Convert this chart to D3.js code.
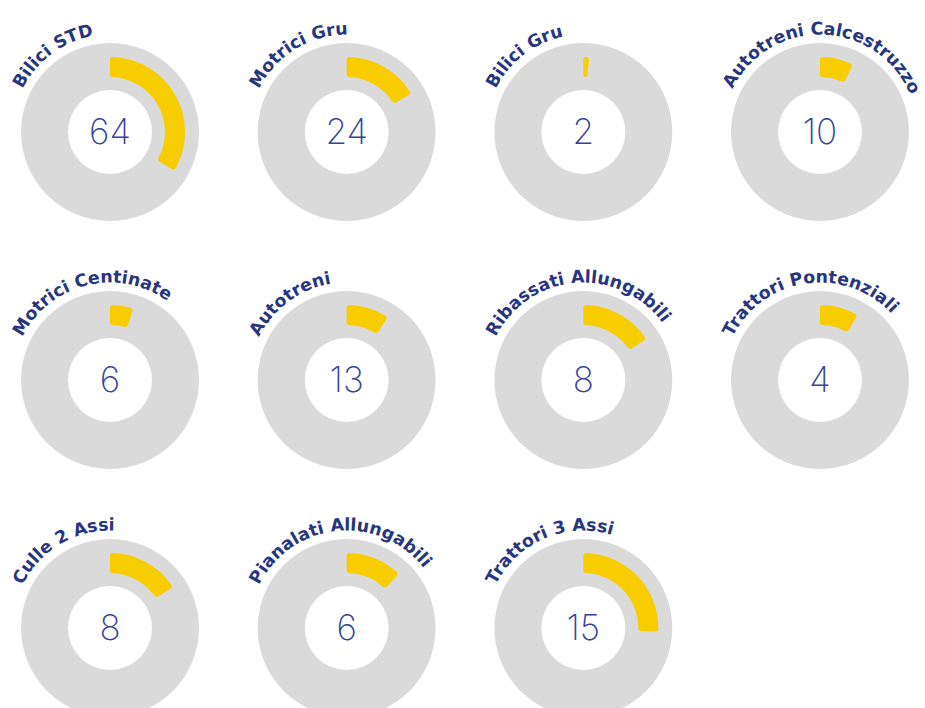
<!DOCTYPE html>
<html>
<head>
<meta charset="utf-8">
<script src="https://cdn.jsdelivr.net/npm/d3@7/dist/d3.min.js"></script>
<style>
  html, body { margin: 0; padding: 0; background: #ffffff; }
  svg { display: block; }
</style>
</head>
<body>
<script>
// ---- data ----
const categories = [
  "Bilici STD", "Motrici Gru", "Bilici Gru", "Autotreni Calcestruzzo",
  "Motrici Centinate", "Autotreni", "Ribassati Allungabili", "Trattori Pontenziali",
  "Culle 2 Assi", "Pianalati Allungabili", "Trattori 3 Assi"
];
const counts = [64, 24, 2, 10, 6, 13, 8, 4, 8, 6, 15];
// share of the full ring filled in yellow (percent)
const arcPercent = [33.6, 16.4, 1.2, 7.2, 5.0, 9.2, 15.8, 8.3, 15.8, 12.2, 25.8];

// ---- layout ----
const W = 925, H = 708;
const nCols = 4;
const colX = d3.scalePoint().domain(d3.range(nCols)).range([110, 820]);
const rowY = d3.scalePoint().domain(d3.range(3)).range([132, 628]);

const rOuter = 89, rHole = 42;
const rArcIn = 55, rArcOut = 75;
const rLabel = 97.5;
const labelStartDeg = -64;

const angle = d3.scaleLinear().domain([0, 100]).range([0, 2 * Math.PI]);

const svg = d3.select("body").append("svg")
  .attr("width", W).attr("height", H)
  .attr("viewBox", `0 0 ${W} ${H}`);

const ringArc = d3.arc().innerRadius(rHole).outerRadius(rOuter)
  .startAngle(0).endAngle(2 * Math.PI);
const valueArc = d3.arc().innerRadius(rArcIn).outerRadius(rArcOut)
  .startAngle(0).cornerRadius(3);

const data = categories.map((c, i) => ({
  name: c, count: counts[i], pct: arcPercent[i], i,
  cx: colX(i % nCols), cy: rowY(Math.floor(i / nCols))
}));

const g = svg.selectAll("g.donut").data(data).join("g")
  .attr("class", "donut")
  .attr("transform", d => `translate(${d.cx},${d.cy})`);

g.append("path").attr("d", ringArc()).attr("fill", "#dadada");

g.append("path")
  .attr("d", d => valueArc({ endAngle: angle(d.pct) }))
  .attr("fill", "#f7cd00");

g.append("text")
  .attr("x", 0).attr("y", -1)
  .attr("dy", "0.36em")
  .attr("text-anchor", "middle")
  .attr("font-family", "Inter, Lato, sans-serif")
  .attr("font-weight", 200)
  .attr("font-size", 35)
  .attr("fill", "#34449a")
  .text(d => d.count);

// curved labels
g.append("path")
  .attr("id", d => "lp" + d.i)
  .attr("fill", "none")
  .attr("d", `M${-rLabel},0 A${rLabel},${rLabel} 0 1 1 ${rLabel},0 A${rLabel},${rLabel} 0 1 1 ${-rLabel},0`);

g.append("text")
  .attr("font-family", "'DejaVu Sans', sans-serif")
  .attr("font-weight", 700)
  .attr("font-size", 17.4)
  .attr("fill", "#27367f")
  .append("textPath")
  .attr("href", d => "#lp" + d.i)
  .attr("startOffset", rLabel * (labelStartDeg + 90) * Math.PI / 180)
  .text(d => d.name);
</script>
</body>
</html>
